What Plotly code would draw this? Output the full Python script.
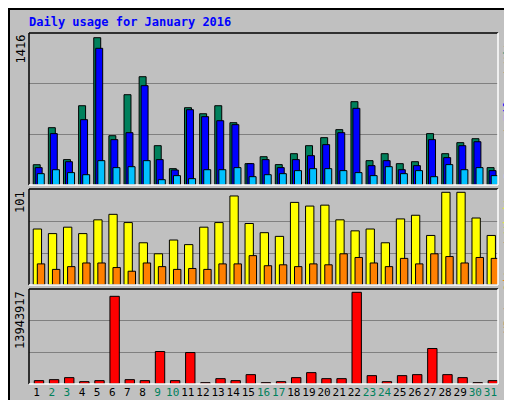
import plotly.graph_objects as go

days = list(range(1, 32))
weekend = {2, 3, 9, 10, 16, 17, 23, 24, 30, 31}

hits = [195, 551, 244, 762, 1416, 474, 868, 1041, 378, 157, 743, 685, 762, 599, 205, 272, 196, 301, 378, 455, 532, 801, 234, 301, 205, 224, 494, 301, 407, 445, 167]
files = [167, 494, 224, 628, 1314, 436, 503, 955, 244, 144, 724, 657, 618, 580, 205, 244, 167, 244, 282, 388, 503, 737, 186, 234, 147, 186, 436, 263, 378, 416, 138]
pages = [109, 147, 119, 99, 234, 167, 176, 234, 51, 90, 61, 147, 147, 167, 80, 99, 109, 138, 157, 157, 138, 119, 90, 176, 109, 138, 80, 196, 147, 167, 90]
visits = [61, 56, 63, 56, 71, 77, 68, 46, 34, 49, 44, 63, 68, 97, 67, 57, 53, 90, 86, 87, 71, 59, 61, 46, 72, 76, 54, 101, 101, 73, 54]
sites = [23, 17, 20, 24, 24, 19, 15, 24, 20, 17, 18, 17, 23, 23, 32, 21, 22, 20, 23, 22, 34, 30, 24, 20, 29, 23, 34, 31, 24, 30, 29]
kbytes = [509000, 661000, 967000, 356000, 509000, 13333000, 661000, 509000, 4937000, 509000, 4784000, 204000, 814000, 509000, 1425000, 204000, 356000, 967000, 1730000, 814000, 814000, 13943917, 1272000, 356000, 1272000, 1425000, 5395000, 1425000, 967000, 204000, 509000]

GREEN = "#00805C"
BG = "#C0C0C0"
LINE = dict(color="black", width=1)

fig = go.Figure()
fig.add_trace(go.Bar(x=days, y=hits, offset=-0.22, width=0.46, marker=dict(color=GREEN, line=LINE), xaxis="x", yaxis="y"))
fig.add_trace(go.Bar(x=days, y=files, offset=-0.09, width=0.46, marker=dict(color="#0000FF", line=LINE), xaxis="x", yaxis="y"))
fig.add_trace(go.Bar(x=days, y=pages, offset=0.05, width=0.46, marker=dict(color="#00C0FF", line=LINE), xaxis="x", yaxis="y"))
fig.add_trace(go.Bar(x=days, y=visits, offset=-0.22, width=0.55, marker=dict(color="#FFFF00", line=LINE), xaxis="x2", yaxis="y2"))
fig.add_trace(go.Bar(x=days, y=sites, offset=0.05, width=0.49, marker=dict(color="#FF8000", line=LINE), xaxis="x2", yaxis="y2"))
fig.add_trace(go.Bar(x=days, y=kbytes, offset=-0.15, width=0.62, marker=dict(color="#FF0000", line=LINE), xaxis="x3", yaxis="y3"))

ticktext = [f"<span style='color:{GREEN if d in weekend else 'black'}'>{d}</span>" for d in days]

def yax(top, dom):
    return dict(range=[0, top], domain=dom, tickvals=[top / 3, top * 2 / 3], showticklabels=False,
                ticks="", gridcolor="#808080", gridwidth=1, zeroline=False, fixedrange=True)

def xax(anchor, labels=False):
    return dict(range=[0.5, 31.5], anchor=anchor, showgrid=False, zeroline=False,
                tickvals=days, ticktext=ticktext, showticklabels=labels, ticks="", tickangle=0,
                tickfont=dict(family="DejaVu Sans Mono", size=11))

fig.update_layout(
    width=512, height=400, barmode="overlay", showlegend=False,
    paper_bgcolor=BG, plot_bgcolor=BG,
    margin=dict(l=21, r=22, t=25, b=24, autoexpand=False),
    font=dict(family="DejaVu Sans Mono", size=11),
    xaxis=xax("y"), xaxis2=xax("y2"), xaxis3=xax("y3", True),
    yaxis=yax(1416 * 152 / 147.3, [1 - 152 / 351, 1]),
    yaxis2=yax(101 * 96 / 92.7, [1 - 252 / 351, 1 - 156 / 351]),
    yaxis3=yax(13943917 * 95 / 91.7, [0, 1 - 256 / 351]),
)

# frames of the three panels (dark top/left, white bottom/right)
for yr in ["y", "y2", "y3"]:
    d = yr.replace("y", "")
    fig.add_shape(type="line", xref=f"x{d} domain", yref=f"{yr} domain", x0=0, x1=1, y0=1, y1=1, line=dict(color="black", width=1.5))
    fig.add_shape(type="line", xref=f"x{d} domain", yref=f"{yr} domain", x0=0, x1=0, y0=0, y1=1, line=dict(color="black", width=1.5))
    fig.add_shape(type="line", xref=f"x{d} domain", yref=f"{yr} domain", x0=0, x1=1, y0=0, y1=0, line=dict(color="white", width=1.5))
    fig.add_shape(type="line", xref=f"x{d} domain", yref=f"{yr} domain", x0=1, x1=1, y0=0, y1=1, line=dict(color="white", width=1.5))

fig.add_shape(type="rect", xref="paper", yref="paper", x0=-20 / 469, x1=1 + 21 / 469, y0=-23 / 351, y1=1 + 24 / 351,
              line=dict(color="black", width=2))

fig.add_annotation(text="<b>Daily usage for January 2016</b>", xref="paper", yref="paper", x=-2 / 469, y=1 + 11 / 351,
                   xanchor="left", yanchor="middle", showarrow=False, font=dict(color="#0000FF", size=12, family="DejaVu Sans Mono"))

left_labels = [("1416", "y"), ("101", "y2"), ("13943917", "y3")]
for txt, yr in left_labels:
    fig.add_annotation(text=txt, xref="paper", yref=f"{yr} domain", x=-9 / 469, y=1, xanchor="center", yanchor="top",
                       textangle=-90, showarrow=False, font=dict(size=12, color="black"))

right_labels = [
    (f"<span style='color:#00C0FF'>Pages</span> / <span style='color:#0000FF'>Files</span> / <span style='color:{GREEN}'>Hits</span>", "y"),
    ("<span style='color:#FF8000'>Sites</span> / <span style='color:#FFFF00'>Visits</span>", "y2"),
    ("<span style='color:#FF0000'>KBytes</span>", "y3"),
]
for txt, yr in right_labels:
    fig.add_annotation(text=txt, xref="paper", yref=f"{yr} domain", x=1 + 10 / 469, y=1, xanchor="center", yanchor="top",
                       textangle=-90, showarrow=False, font=dict(size=12, color="black"))

fig.write_html("out.html")
